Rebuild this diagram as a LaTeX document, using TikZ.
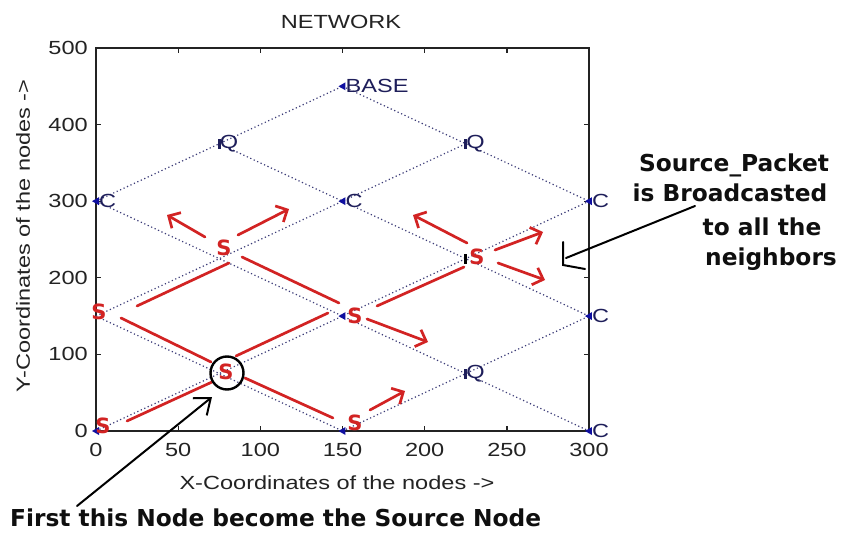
\documentclass[tikz,border=0pt]{standalone}
\usepackage{fontspec}
\setmainfont{Liberation Sans}
\newfontfamily\annofont{DejaVu Sans}
\usetikzlibrary{arrows.meta}
\definecolor{netblue}{RGB}{15,15,160}
\definecolor{netlbl}{RGB}{30,30,90}
\definecolor{dotc}{RGB}{60,60,120}
\definecolor{redp}{RGB}{210,35,35}
\definecolor{axc}{RGB}{35,35,35}
\definecolor{annoc}{RGB}{15,15,15}
\newcommand\axt[1]{\scalebox{1.24}[1]{#1}}
\tikzset{
  axtext/.style={font=\fontsize{19}{19}\selectfont, text=axc, inner sep=0pt},
  netlabel/.style={font=\fontsize{19}{19}\selectfont, text=netlbl, inner sep=0pt, anchor=west},
  slabel/.style={font=\annofont\bfseries\fontsize{21}{21}\selectfont, text=redp, inner sep=0pt},
  redpath/.style={draw=redp, line width=2.7pt, line cap=round},
  redarrow/.style={redpath, -{Straight Barb[length=9pt,width=18pt]}},
  netedge/.style={draw=dotc, line width=1.2pt, dash pattern=on 1.2pt off 2.6pt},
  annotext/.style={font=\annofont\bfseries\fontsize{23.3}{28}\selectfont, text=annoc, inner sep=0pt, anchor=base},
  blkline/.style={draw=black, line width=2pt, line cap=round},
  ring/.style={circle, draw=black, line width=2.4pt, minimum size=33pt, inner sep=0pt},
  axisline/.style={draw=axc, line width=1.2pt},
}
\begin{document}
\begin{tikzpicture}[x=1pt,y=-1pt]
\useasboundingbox[fill=white] (0,0) rectangle (841,535);

% axes
\draw[axisline] (96,48) rectangle (589,431);
\foreach \px/\lab in {96/0,178.2/50,260.4/100,342.5/150,424.7/200,506.9/250,589/300}{
  \draw[axisline] (\px,431) -- (\px,426);
  \draw[axisline] (\px,48) -- (\px,53);
  \node[axtext] at (\px,450) {\axt{\lab}};
}
\foreach \py/\lab in {431/0,354.4/100,277.8/200,201.2/300,124.6/400,48/500}{
  \draw[axisline] (96,\py) -- (101,\py);
  \draw[axisline] (589,\py) -- (584,\py);
  \node[axtext, anchor=east] at (88,\py) {\axt{\lab}};
}
\node[axtext] (title) at (341,22) {\axt{NETWORK}};
\node[axtext] (xlab) at (337,483) {\axt{X-Coordinates of the nodes ->}};
\node[axtext, rotate=90] (ylab) at (23,236) {\axt{Y-Coordinates of the nodes ->}};

% network in data coordinates
\begin{scope}[xshift=96pt, yshift=-431pt, x=1.6433pt, y=0.766pt]
  \foreach \n/\xx/\yy in {a/0/0, b/0/150, c/0/300, d/75/75, e/75/225, f/75/375,
      g/150/0, h/150/150, i/150/300, j/150/450, k/225/75, l/225/225, m/225/375,
      n/300/0, o/300/150, p/300/300}
    \coordinate (\n) at (\xx,\yy);
  \draw[netedge] (a) -- (d) -- (h) -- (l) -- (p);
  \draw[netedge] (b) -- (e) -- (i) -- (m);
  \draw[netedge] (c) -- (f) -- (j);
  \draw[netedge] (g) -- (k) -- (o);
  \draw[netedge] (c) -- (e) -- (h) -- (k) -- (n);
  \draw[netedge] (b) -- (d) -- (g);
  \draw[netedge] (f) -- (i) -- (l) -- (o);
  \draw[netedge] (j) -- (m) -- (p);
  \foreach \n in {a,c,i,p,o,n,j,h,g}
    \fill[netblue] (\n) ++(-4pt,0pt) -- ++(7pt,4pt) -- ++(0pt,-8pt) -- cycle;
  \foreach \n in {f,m,k}
    \fill[netlbl] (\n) ++(-1.5pt,-5pt) rectangle ++(3pt,10pt);
  \fill[black] (l) ++(-1.5pt,-5pt) rectangle ++(3pt,10pt);
  \foreach \n/\t in {c/C, i/C, p/C, o/C, n/C, j/BASE}
    \node[netlabel] (lab\n) at ([xshift=3pt]\n) {\axt{\t}};
  \foreach \n/\t in {f/Q, m/Q, k/Q}
    \node[netlabel] (lab\n) at ([xshift=0.5pt]\n) {\axt{\t}};
\end{scope}

% red S labels
\node[slabel] (s1) at (103,426) {S};
\node[slabel] (s2) at (99,312) {S};
\node[slabel] (s3) at (226,372) {S};
\node[slabel] (s4) at (224,248) {S};
\node[slabel] (s5) at (355,316) {S};
\node[slabel] (s6) at (355,423) {S};
\node[slabel] (s7) at (477,257) {S};

% red path strokes (painted beside the dotted links)
\coordinate (r1a) at (137,306); \coordinate (r1b) at (229,263);
\coordinate (r2a) at (121,318); \coordinate (r2b) at (211,362);
\coordinate (r3a) at (127,421); \coordinate (r3b) at (212,382);
\coordinate (r4a) at (236,356); \coordinate (r4b) at (328,313);
\coordinate (r5a) at (245,378); \coordinate (r5b) at (333,418);
\coordinate (r6a) at (242,257); \coordinate (r6b) at (339,303);
\coordinate (r7a) at (377,306); \coordinate (r7b) at (464,267);
\draw[redpath] (r1a) -- (r1b);
\draw[redpath] (r2a) -- (r2b);
\draw[redpath] (r3a) -- (r3b);
\draw[redpath] (r4a) -- (r4b);
\draw[redpath] (r5a) -- (r5b);
\draw[redpath] (r6a) -- (r6b);
\draw[redpath] (r7a) -- (r7b);

% red broadcast arrows
\coordinate (a1a) at (205,237); \coordinate (a1b) at (167,215);
\coordinate (a2a) at (238,235); \coordinate (a2b) at (289,209);
\coordinate (a3a) at (367,319); \coordinate (a3b) at (428,342);
\coordinate (a4a) at (370,410); \coordinate (a4b) at (405,391);
\coordinate (a5a) at (467,243); \coordinate (a5b) at (413,215);
\coordinate (a6a) at (495,250); \coordinate (a6b) at (543,232);
\coordinate (a7a) at (498,263); \coordinate (a7b) at (545,280);
\draw[redarrow] (a1a) -- (a1b);
\draw[redarrow] (a2a) -- (a2b);
\draw[redarrow] (a3a) -- (a3b);
\draw[redarrow] (a4a) -- (a4b);
\draw[redarrow] (a5a) -- (a5b);
\draw[redarrow] (a6a) -- (a6b);
\draw[redarrow] (a7a) -- (a7b);

% source node ring and its annotation
\node[ring] (src) at (227,373) {};
\node[annotext, anchor=base west] (first) at (10,526) {First this Node become the Source Node};
\coordinate (fa) at (77,506);
\coordinate (fb) at (212,397);
\draw[blkline, -{Straight Barb[length=14pt,width=22pt]}] (fa) -- (fb);

% broadcast annotation
\node[annotext] (sp) at (734,171) {Source\_Packet};
\node[annotext] (bc) at (730,201) {is Broadcasted};
\node[annotext] (ta) at (762,235) {to all the};
\node[annotext] (nb) at (771,265) {neighbors};
\coordinate (ba) at (695,206);
\coordinate (bb) at (566,258);
\coordinate (l1) at (563,242);
\coordinate (l2) at (563,265);
\coordinate (l3) at (585,269);
\draw[blkline] (ba) -- (bb);
\draw[blkline] (l1) -- (l2) -- (l3);
\end{tikzpicture}
\end{document}
